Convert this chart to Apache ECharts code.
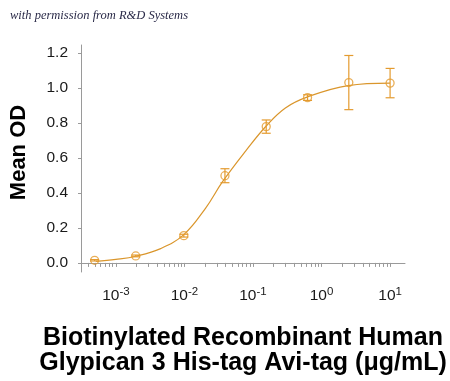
<!DOCTYPE html>
<html>
<head>
<meta charset="utf-8">
<script src="https://cdn.jsdelivr.net/npm/echarts@6/dist/echarts.min.js"></script>
<style>html,body{margin:0;padding:0;background:#fff;}#chart{width:450px;height:381px;}</style>
</head>
<body>
<div id="chart"></div>
<script>
// Concentrations (ug/mL)
var conc = [0.00049, 0.00195, 0.0098, 0.039, 0.156, 0.625, 2.5, 10];
// Mean OD values
var meanOD = [0.015, 0.040, 0.156, 0.499, 0.780, 0.946, 1.032, 1.029];
// Error (half-length of bars)
var errOD = [0.004, 0.005, 0.008, 0.040, 0.038, 0.016, 0.155, 0.084];
// Fitted curve
var curveX = [0.00051, 0.001, 0.00195, 0.0045, 0.0098, 0.0204, 0.036, 0.078, 0.157, 0.297, 0.614, 2.45, 10];
var curveY = [0.009, 0.020, 0.038, 0.082, 0.162, 0.314, 0.465, 0.640, 0.785, 0.887, 0.949, 1.015, 1.029];
// Tick values
var yTicks = [0, 0.2, 0.4, 0.6, 0.8, 1.0, 1.2];
var xMajor = [0.001, 0.01, 0.1, 1, 10];
var xMinorFactors = [2, 3, 4, 5, 6, 7, 8, 9];

var xTickVals = [];
[0.0001, 0.001, 0.01, 0.1, 1, 10].forEach(function (d) {
  xMinorFactors.forEach(function (f) { xTickVals.push(+(d * f).toPrecision(3)); });
});
xTickVals = xTickVals.concat(xMajor).filter(function (v) { return v >= 0.00035 && v <= 16; });

var ORANGE = '#E49B2F';
var AXIS = '#9a9a9a';

var chart = echarts.init(document.getElementById('chart'), null, {renderer: 'canvas'});
chart.setOption({
  animation: false,
  backgroundColor: '#fff',
  grid: {left: 80, right: 45, top: 45, bottom: 108.7},
  graphic: [{
    type: 'text', left: 10, top: 9,
    style: {text: 'with permission from R&D Systems', font: 'italic 12.5px "Liberation Serif", "DejaVu Serif", serif', fill: '#2a2a48'}
  }],
  xAxis: {
    type: 'log', logBase: 10, min: 0.00031, max: 16.5,
    name: 'Biotinylated Recombinant Human\nGlypican 3 His-tag Avi-tag (\u03bcg/mL)',
    nameLocation: 'middle', nameGap: 54,
    nameTextStyle: {fontFamily: '"Liberation Sans", Arial, sans-serif', fontWeight: 'bold', fontSize: 25, lineHeight: 25, color: '#000'},
    axisLine: {lineStyle: {color: AXIS, width: 1}},
    axisTick: {show: true, inside: false, length: 4, lineStyle: {color: AXIS}, customValues: xTickVals},
    axisLabel: {
      customValues: xMajor, margin: 14,
      formatter: function (v) { var e = Math.round(Math.log10(v)); return '{b|10}{s|' + e + '}'; },
      rich: {
        b: {fontFamily: '"Liberation Sans", Arial, sans-serif', fontSize: 15.5, lineHeight: 18, verticalAlign: 'bottom', color: '#1a1a1a'},
        s: {fontFamily: '"Liberation Sans", Arial, sans-serif', fontSize: 11.5, lineHeight: 11, verticalAlign: 'top', color: '#1a1a1a'}
      }
    },
    splitLine: {show: false}, minorTick: {show: false}
  },
  yAxis: {
    type: 'value', min: -0.052, max: 1.247,
    name: 'Mean OD', nameLocation: 'middle', nameGap: 51,
    nameTextStyle: {fontFamily: '"Liberation Sans", Arial, sans-serif', fontWeight: 'bold', fontSize: 22, color: '#000', padding: [0, 0, 0, 12]},
    axisLine: {show: true, lineStyle: {color: AXIS, width: 1}},
    axisTick: {show: true, length: 3, lineStyle: {color: AXIS}, customValues: yTicks},
    axisLabel: {
      customValues: yTicks, margin: 13,
      fontFamily: '"Liberation Sans", Arial, sans-serif', fontSize: 15.5, color: '#1a1a1a',
      formatter: function (v) { return v.toFixed(1); }
    },
    splitLine: {show: false}
  },
  series: [
    {
      type: 'line', data: curveX.map(function (x, i) { return [x, curveY[i]]; }),
      smooth: 0.4, showSymbol: false, symbol: 'none',
      lineStyle: {color: '#DA962C', width: 1.2}, z: 2
    },
    {
      type: 'custom', z: 3,
      data: conc.map(function (x, i) { return [x, meanOD[i] - errOD[i], meanOD[i] + errOD[i]]; }),
      renderItem: function (params, api) {
        var lo = api.coord([api.value(0), api.value(1)]);
        var hi = api.coord([api.value(0), api.value(2)]);
        var hw = 4.5;
        var st = {stroke: ORANGE, lineWidth: 1.2, fill: null};
        return {type: 'group', children: [
          {type: 'line', shape: {x1: lo[0], y1: lo[1], x2: hi[0], y2: hi[1]}, style: st},
          {type: 'line', shape: {x1: lo[0] - hw, y1: lo[1], x2: lo[0] + hw, y2: lo[1]}, style: st},
          {type: 'line', shape: {x1: hi[0] - hw, y1: hi[1], x2: hi[0] + hw, y2: hi[1]}, style: st}
        ]};
      }
    },
    {
      type: 'scatter', z: 4,
      data: conc.map(function (x, i) { return [x, meanOD[i]]; }),
      symbol: 'circle', symbolSize: 8,
      itemStyle: {color: 'rgba(255,255,255,0)', borderColor: ORANGE, borderWidth: 1.3}
    }
  ]
});
</script>
</body>
</html>
